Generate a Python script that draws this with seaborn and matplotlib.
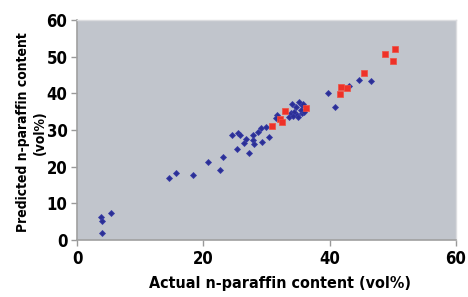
import matplotlib
matplotlib.use("Agg")
import matplotlib.pyplot as plt
import seaborn as sns
import pandas as pd

# Data
blue_actual = [3.9, 3.8, 4.0, 5.3, 14.6, 15.7, 18.3, 20.7, 22.6, 23.1, 25.4, 27.2,
               25.5, 25.8, 26.4, 27.8, 27.8, 28.6, 29.3, 30.4, 29.1, 29.9, 31.7, 31.5,
               33.6, 33.9, 34.7, 35.2, 35.7, 34.9, 35.7, 34.4, 35.5, 34.2, 35.0, 36.0,
               34.0, 35.8, 39.7, 40.8, 43.0, 44.7, 46.5, 26.8, 28.0, 24.6]
blue_pred = [1.8, 6.3, 5.2, 7.4, 16.8, 18.3, 17.7, 21.2, 19.0, 22.7, 24.8, 23.6,
             29.2, 28.5, 26.5, 27.2, 28.6, 29.5, 26.8, 28.2, 30.4, 30.9, 34.1, 33.2,
             33.6, 34.5, 36.3, 37.7, 36.8, 34.1, 34.5, 35.0, 35.4, 33.8, 33.5, 35.0,
             37.0, 37.2, 40.2, 36.2, 42.0, 43.6, 43.3, 27.5, 26.2, 28.5]
red_actual = [30.8, 32.1, 32.4, 33.0, 36.2, 41.6, 41.8, 42.7, 45.5, 48.8, 50.3, 50.1]
red_pred = [31.1, 32.9, 32.2, 35.1, 35.9, 39.7, 41.6, 41.5, 45.6, 50.7, 52.2, 48.8]

x_ticks = [0, 20, 40, 60]
y_ticks = [0, 10, 20, 30, 40, 50, 60]
x_label = "Actual n-paraffin content (vol%)"
y_label = "Predicted n-paraffin content\n(vol%)"

sns.set_theme(style="white")
plt.rcParams["font.family"] = ["DejaVu Sans"]
plt.rcParams["font.stretch"] = "condensed"
plt.rcParams["text.color"] = "black"
plt.rcParams["axes.labelcolor"] = "black"

fig = plt.figure(figsize=(4.68, 2.97), dpi=100)
ax = fig.add_axes([0.165, 0.192, 0.809, 0.741])
ax.set_facecolor("#c1c5cc")

df_b = pd.DataFrame({"x": blue_actual, "y": blue_pred})
df_r = pd.DataFrame({"x": red_actual, "y": red_pred})
sns.scatterplot(data=df_b, x="x", y="y", ax=ax, marker="D", s=9,
                color="#2b2f94", edgecolor="#3a3ea8", linewidth=0.6, zorder=3)
sns.scatterplot(data=df_r, x="x", y="y", ax=ax, marker="s", s=14,
                color="#ee3128", edgecolor="#f05040", linewidth=0.5, zorder=4)

ax.set_xlim(0, 60)
ax.set_ylim(0, 60)
ax.set_xticks(x_ticks)
ax.set_yticks(y_ticks)
ax.tick_params(axis="both", which="both", length=4, width=1, color="#999999",
               labelsize=12, pad=3, bottom=True, left=True, labelcolor="black")
for lab in ax.get_xticklabels() + ax.get_yticklabels():
    lab.set_fontweight("bold")
    lab.set_fontstretch("condensed")

for side in ["left", "bottom"]:
    ax.spines[side].set_color("#a0a0a0")
    ax.spines[side].set_linewidth(1.2)
for side in ["top", "right"]:
    ax.spines[side].set_color("#dcdde0")
    ax.spines[side].set_linewidth(1.0)

ax.set_xlabel(x_label, fontsize=11.5, fontweight="bold", fontstretch="condensed")
ax.set_ylabel(y_label, fontsize=10, fontweight="bold", fontstretch="condensed",
              linespacing=1.3)
ax.xaxis.set_label_coords(0.535, -0.165)
ax.yaxis.set_label_coords(-0.08, 0.49)

fig.savefig("out.png", dpi=100)
